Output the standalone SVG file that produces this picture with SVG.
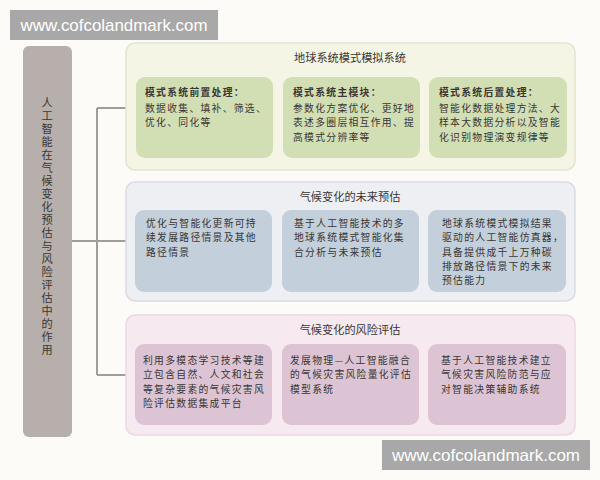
<svg xmlns="http://www.w3.org/2000/svg" width="600" height="480" viewBox="0 0 600 480">
<style>
text{font-family:"Noto Sans CJK SC","Noto Sans",sans-serif;fill:#3a3633;font-size:11.2px}
.t{text-anchor:middle}
.b{font-size:9.8px;letter-spacing:1.3px}
.h{font-weight:bold}
.wm{font-family:"Liberation Sans",Arial,sans-serif;font-size:17px;fill:#ffffff}
.conn{fill:none;stroke:#a39d9a;stroke-width:2}
.p1{fill:#f4f5e4;stroke:#e2e5cf;stroke-width:1.5}
.b1{fill:#d2deb3}
.p2{fill:#eeeff3;stroke:#d9dce3;stroke-width:1.5}
.b2{fill:#c3cfda}
.p3{fill:#f6e9f0;stroke:#ecd8e3;stroke-width:1.5}
.b3{fill:#dcc4d4}
</style>
<rect width="600" height="480" fill="#fcfbf8"/>
<g id="connectors">
<path class="conn" d="M72 241H126M97 108V375M97 108H126M97 375H126"/>
</g>
<g id="root">
<rect x="23" y="46" width="49" height="391" rx="6" fill="#b6afac"/>
<text x="47" y="97" font-size="12" writing-mode="vertical-rl" letter-spacing="1.8">人工智能在气候变化预估与风险评估中的作用</text>
</g>
<g id="panel1">
<rect class="p1" x="126" y="43" width="449" height="127" rx="9"/>
<text class="t" x="350" y="62">地球系统模式模拟系统</text>
</g>
<g id="p1b1">
<rect class="b1" x="136" y="77" width="137" height="81" rx="9"/>
<text class="b" x="145" y="96"><tspan class="h">模式系统前置处理：</tspan><tspan x="145" y="112">数据收集、填补、筛选、</tspan><tspan x="145" y="126.3">优化、同化等</tspan></text>
</g>
<g id="p1b2">
<rect class="b1" x="283" y="77" width="137" height="81" rx="9"/>
<text class="b" x="293" y="96"><tspan class="h">模式系统主模块：</tspan><tspan x="293" y="112">参数化方案优化、更好地</tspan><tspan x="293" y="126.3">表述多圈层相互作用、提</tspan><tspan x="293" y="140.6">高模式分辨率等</tspan></text>
</g>
<g id="p1b3">
<rect class="b1" x="429" y="77" width="138" height="81" rx="9"/>
<text class="b" x="439" y="96"><tspan class="h">模式系统后置处理：</tspan><tspan x="439" y="112">智能化数据处理方法、大</tspan><tspan x="439" y="126.3">样本大数据分析以及智能</tspan><tspan x="439" y="140.6">化识别物理演变规律等</tspan></text>
</g>
<g id="panel2">
<rect class="p2" x="126" y="182" width="449" height="119" rx="9"/>
<text class="t" x="350" y="201">气候变化的未来预估</text>
</g>
<g id="p2b1">
<rect class="b2" x="135" y="210" width="137" height="82" rx="9"/>
<text class="b" x="146" y="227"><tspan>优化与智能化更新可持</tspan><tspan x="146" dy="14.3">续发展路径情景及其他</tspan><tspan x="146" dy="14.3">路径情景</tspan></text>
</g>
<g id="p2b2">
<rect class="b2" x="282" y="210" width="137" height="82" rx="9"/>
<text class="b" x="294" y="227"><tspan>基于人工智能技术的多</tspan><tspan x="294" dy="14.3">地球系统模式智能化集</tspan><tspan x="294" dy="14.3">合分析与未来预估</tspan></text>
</g>
<g id="p2b3">
<rect class="b2" x="428" y="210" width="138" height="82" rx="9"/>
<text class="b" x="442" y="227"><tspan>地球系统模式模拟结果</tspan><tspan x="442" dy="14.3">驱动的人工智能仿真器，</tspan><tspan x="442" dy="14.3">具备提供成千上万种碳</tspan><tspan x="442" dy="14.3">排放路径情景下的未来</tspan><tspan x="442" dy="14.3">预估能力</tspan></text>
</g>
<g id="panel3">
<rect class="p3" x="126" y="315" width="449" height="120" rx="9"/>
<text class="t" x="350" y="334">气候变化的风险评估</text>
</g>
<g id="p3b1">
<rect class="b3" x="135" y="344" width="137" height="81" rx="9"/>
<text class="b" x="143" y="364"><tspan>利用多模态学习技术等建</tspan><tspan x="143" dy="14.3">立包含自然、人文和社会</tspan><tspan x="143" dy="14.3">等复杂要素的气候灾害风</tspan><tspan x="143" dy="14.3">险评估数据集成平台</tspan></text>
</g>
<g id="p3b2">
<rect class="b3" x="282" y="344" width="137" height="81" rx="9"/>
<text class="b" x="290" y="364"><tspan>发展物理—人工智能融合</tspan><tspan x="290" dy="14.3">的气候灾害风险量化评估</tspan><tspan x="290" dy="14.3">模型系统</tspan></text>
</g>
<g id="p3b3">
<rect class="b3" x="428" y="344" width="138" height="81" rx="9"/>
<text class="b" x="441" y="364"><tspan>基于人工智能技术建立</tspan><tspan x="441" dy="14.3">气候灾害风险防范与应</tspan><tspan x="441" dy="14.3">对智能决策辅助系统</tspan></text>
</g>
<g id="watermark-top">
<rect x="10" y="10" width="208" height="30" fill="#a8a8a8"/>
<text class="wm" x="20.5" y="31" textLength="187" lengthAdjust="spacingAndGlyphs">www.cofcolandmark.com</text>
</g>
<g id="watermark-bottom">
<rect x="382" y="440" width="208" height="30" fill="#a8a8a8"/>
<text class="wm" x="392" y="461" textLength="188" lengthAdjust="spacingAndGlyphs">www.cofcolandmark.com</text>
</g>
</svg>
